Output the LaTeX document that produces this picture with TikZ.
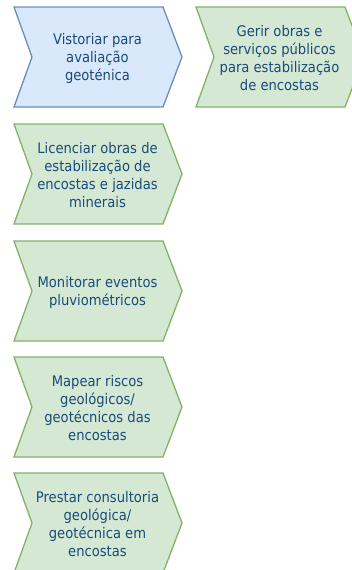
\documentclass[tikz,border=0pt]{standalone}
\usepackage{fontspec}
\setmainfont{DejaVu Sans Condensed}
\definecolor{bfill}{HTML}{DAE8FC}
\definecolor{bline}{HTML}{6C8EBF}
\definecolor{gfill}{HTML}{D5E8D4}
\definecolor{gline}{HTML}{82B366}
\definecolor{txt}{HTML}{184C78}
\begin{document}
\begin{tikzpicture}[x=1pt,y=-1pt,
  chevblue/.style={draw=bline,fill=bfill,line width=1.3pt,line join=miter},
  chevgreen/.style={draw=gline,fill=gfill,line width=1.3pt,line join=miter},
  lbl/.style={align=center,text=txt,inner sep=0pt,font=\fontsize{14.6}{18}\selectfont},
  chevron/.pic={\path[pic actions] (0,0) -- (149,0) -- (168,50) -- (149,100) -- (0,100) -- (18,50) -- cycle;}]
\useasboundingbox (0,0) rectangle (351,570);
\pic[chevblue] (c1) at (14,7) {chevron};
\pic[chevgreen] (c2) at (196,7) {chevron};
\pic[chevgreen] (c3) at (14,124) {chevron};
\pic[chevgreen] (c4) at (14,241) {chevron};
\pic[chevgreen] (c5) at (14,357) {chevron};
\pic[chevgreen] (c6) at (14,473) {chevron};
\node[lbl] (t1) at (97.5,58.5) {Vistoriar para\\avaliação\\geoténica};
\node[lbl] (t2) at (279.5,58.5) {Gerir obras e\\serviços públicos\\para estabilização\\de encostas};
\node[lbl] (t3) at (97.5,175.5) {Licenciar obras de\\estabilização de\\encostas e jazidas\\minerais};
\node[lbl] (t4) at (97.5,292.5) {Monitorar eventos\\pluviométricos};
\node[lbl] (t5) at (97.5,408.5) {Mapear riscos\\geológicos/\\geotécnicos das\\encostas};
\node[lbl] (t6) at (97.5,524.5) {Prestar consultoria\\geológica/\\geotécnica em\\encostas};
\end{tikzpicture}
\end{document}
